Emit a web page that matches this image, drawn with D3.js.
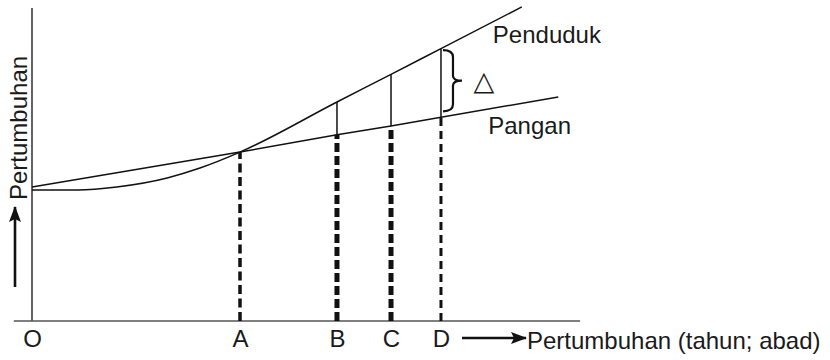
<!DOCTYPE html>
<html>
<head>
<meta charset="utf-8">
<script src="https://cdnjs.cloudflare.com/ajax/libs/d3/7.8.5/d3.min.js"></script>
<style>
    html, body { margin: 0; padding: 0; background: #fff; }
    svg text { font-family: "Liberation Sans", Arial, sans-serif; fill: #1a1a1a; }
</style>
</head>
<body>
<svg id="chart" width="830" height="360"></svg>
<script>
// titik waktu (sumbu x)
const tickLabels = ["O", "A", "B", "C", "D"];
const tickValues = [0, 40, 58.65, 69.04, 78.65];

// kurva penduduk (deret ukur)
const pendudukX = [0, 8.8, 16.3, 26, 32.3, 40, 58.65, 69.04, 78.65, 94.2];
const pendudukY = [43.7, 43.7, 44.7, 47.7, 51, 56.3, 73, 82.2, 90.8, 104.7];

// kurva pangan (deret hitung)
const panganX = [0, 40, 58.65, 69.04, 78.65, 101.2];
const panganY = [44.7, 56.3, 62.1, 65, 67.9, 74.7];

// nilai pada titik A..D
const markX = [40, 58.65, 69.04, 78.65];
const markPangan = [56.3, 62.1, 65, 67.9];
const markPenduduk = [56.3, 73, 82.2, 90.8];

class MalthusChart {
    constructor (element, configs) {
        this.ele = d3.select(element);
        this.defaultConfig = {
            xRange: [32, 552],
            yRange: [321, 21],
            fontSize: 24,
            dash: [
                {width: 3.5, pattern: "9,4.5"},
                {width: 5, pattern: "9,4"},
                {width: 5, pattern: "9,4"},
                {width: 3, pattern: "8,5"}
            ]
        };
        this.config = Object.assign({}, this.defaultConfig, configs);
        this.initScales();
        this.setMarkers();
        this.drawAxis();
        this.drawLines();
        this.drawGuides();
        this.drawBrace();
        this.drawLabels();
    }

    initScales () {
        this.x = d3.scaleLinear().domain([0, 100]).range(this.config.xRange);
        this.y = d3.scaleLinear().domain([0, 100]).range(this.config.yRange);
    }

    setMarkers () {
        let defs = this.ele.append("defs");
        defs.append("marker")
            .attr("id", "arrowHead")
            .attr("viewBox", "0 0 16 12")
            .attr("refX", 15)
            .attr("refY", 6)
            .attr("markerUnits", "userSpaceOnUse")
            .attr("markerWidth", 16)
            .attr("markerHeight", 12)
            .attr("orient", "auto")
            .append("path")
            .attr("d", "M0,0 L16,6 L0,12 L3,6 Z")
            .attr("fill", "#111");
    }

    drawAxis () {
        let x = this.x, y = this.y;
        // sumbu y
        this.ele.append("line")
            .attr("x1", x(0)).attr("x2", x(0))
            .attr("y1", y(104.3)).attr("y2", y(0))
            .attr("stroke", "#222")
            .attr("stroke-width", 1.4);
        // sumbu x
        this.ele.append("line")
            .attr("x1", x(-3.5)).attr("x2", x(105.4))
            .attr("y1", y(0)).attr("y2", y(0))
            .attr("stroke", "#555")
            .attr("stroke-width", 1.3);

        let axis = this.ele.append("g")
            .attr("class", "axis xAxis")
            .attr("transform", "translate(0," + y(0) + ")")
            .call(d3.axisBottom(x)
                .tickValues(tickValues)
                .tickFormat((d, i) => tickLabels[i])
                .tickSize(0)
                .tickPadding(9));
        axis.select(".domain").remove();
        axis.selectAll("text")
            .attr("font-size", this.config.fontSize)
            .attr("font-family", "Liberation Sans, Arial, sans-serif")
            .attr("fill", "#1a1a1a");
    }

    drawLines () {
        let line = d3.line()
            .x((d) => this.x(d[0]))
            .y((d) => this.y(d[1]));

        this.ele.append("path")
            .datum(d3.zip(pendudukX, pendudukY))
            .attr("fill", "none")
            .attr("stroke", "#111")
            .attr("stroke-width", 1.5)
            .attr("d", line.curve(d3.curveMonotoneX));

        this.ele.append("path")
            .datum(d3.zip(panganX, panganY))
            .attr("fill", "none")
            .attr("stroke", "#111")
            .attr("stroke-width", 1.5)
            .attr("d", line.curve(d3.curveLinear));
    }

    drawGuides () {
        let x = this.x, y = this.y;
        // garis putus-putus dari sumbu ke kurva pangan
        this.ele.append("g")
            .selectAll("line")
            .data(markX)
            .enter()
            .append("line")
            .attr("x1", (d) => x(d))
            .attr("x2", (d) => x(d))
            .attr("y1", y(0))
            .attr("y2", (d, i) => y(markPangan[i]))
            .attr("stroke", "#111")
            .attr("stroke-width", (d, i) => this.config.dash[i].width)
            .attr("stroke-dasharray", (d, i) => this.config.dash[i].pattern);

        // garis tipis antara pangan dan penduduk
        this.ele.append("g")
            .selectAll("line")
            .data(markX.slice(1))
            .enter()
            .append("line")
            .attr("x1", (d) => x(d))
            .attr("x2", (d) => x(d))
            .attr("y1", (d, i) => y(markPangan[i + 1]))
            .attr("y2", (d, i) => y(markPenduduk[i + 1]))
            .attr("stroke", "#111")
            .attr("stroke-width", 1.5);
    }

    drawBrace () {
        let i = markX.length - 1;
        let bx = this.x(markX[i]) + 2;
        let top = this.y(markPenduduk[i]) + 1.5;
        let bot = this.y(markPangan[i]) - 6;
        let mid = (top + bot) / 2;
        let p = d3.path();
        p.moveTo(bx, top);
        p.quadraticCurveTo(bx + 10, top, bx + 10, top + 7);
        p.lineTo(bx + 10, mid - 5);
        p.quadraticCurveTo(bx + 10, mid, bx + 19, mid);
        p.quadraticCurveTo(bx + 10, mid, bx + 10, mid + 5);
        p.lineTo(bx + 10, bot - 7);
        p.quadraticCurveTo(bx + 10, bot, bx, bot);
        this.ele.append("path")
            .attr("d", p.toString())
            .attr("fill", "none")
            .attr("stroke", "#111")
            .attr("stroke-width", 2.2);

        this.ele.append("text")
            .attr("x", bx + 41)
            .attr("y", mid + 9)
            .attr("text-anchor", "middle")
            .style("font-family", "'DejaVu Sans', sans-serif")
            .attr("font-size", 27)
            .text("\u25B3");
    }

    drawLabels () {
        let fs = this.config.fontSize;
        let last = (arr) => arr[arr.length - 1];

        this.ele.append("text")
            .attr("x", this.x(last(pendudukX)) - 29)
            .attr("y", this.y(last(pendudukY)) + 36)
            .attr("font-size", fs)
            .text("Penduduk");

        this.ele.append("text")
            .attr("x", this.x(last(panganX)) - 70)
            .attr("y", this.y(last(panganY)) + 37)
            .attr("font-size", fs)
            .text("Pangan");

        // judul sumbu x dengan panah
        this.ele.append("line")
            .attr("x1", 462).attr("x2", 526)
            .attr("y1", 338).attr("y2", 338)
            .attr("stroke", "#111")
            .attr("stroke-width", 2.6)
            .attr("marker-end", "url(#arrowHead)");
        this.ele.append("text")
            .attr("x", 527)
            .attr("y", 349)
            .attr("font-size", fs)
            .text("Pertumbuhan (tahun; abad)");

        // judul sumbu y dengan panah
        this.ele.append("line")
            .attr("x1", 15).attr("x2", 15)
            .attr("y1", 287).attr("y2", 207)
            .attr("stroke", "#111")
            .attr("stroke-width", 2.6)
            .attr("marker-end", "url(#arrowHead)");
        this.ele.append("text")
            .attr("transform", "translate(27,200) rotate(-90)")
            .attr("font-size", fs)
            .text("Pertumbuhan");
    }
}

new MalthusChart("#chart");
</script>
</body>
</html>
